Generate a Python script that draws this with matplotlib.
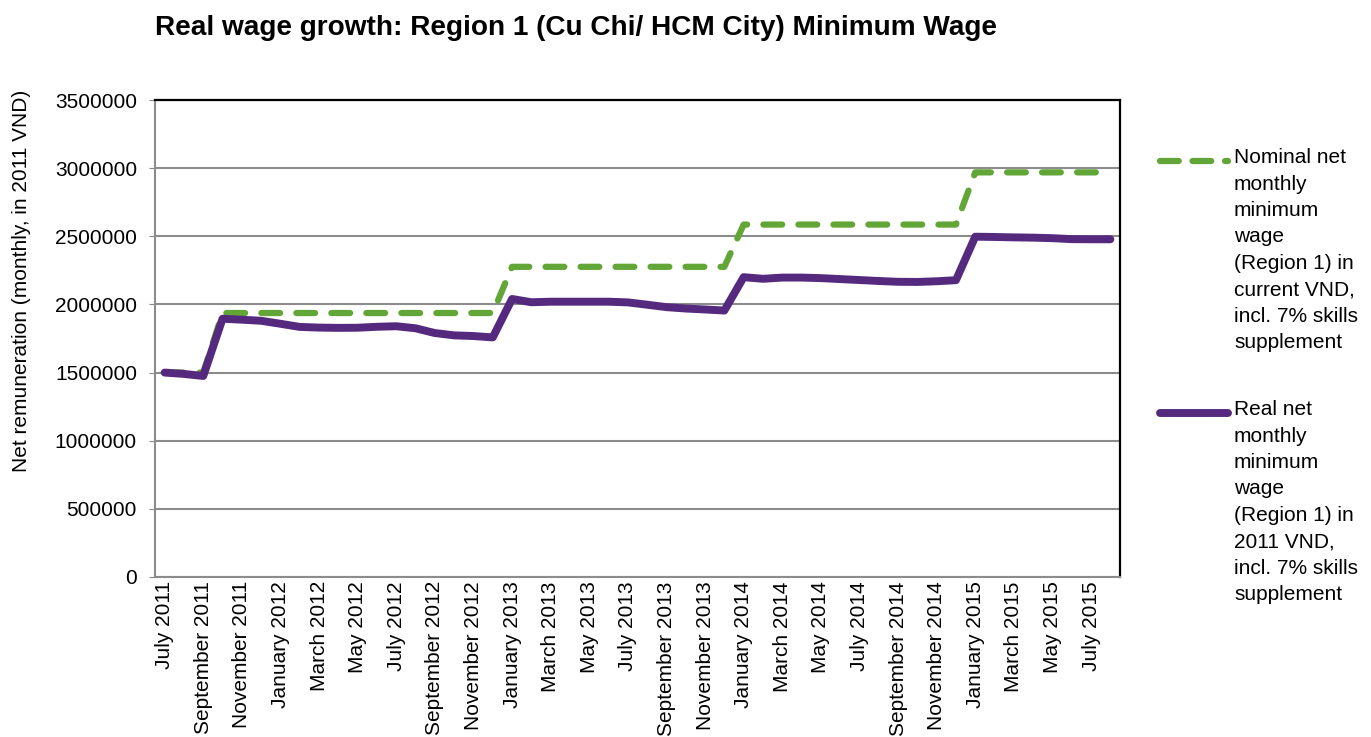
import matplotlib
matplotlib.use("Agg")
import matplotlib.pyplot as plt
from matplotlib.lines import Line2D

plt.rcParams['font.family'] = ['Liberation Sans', 'DejaVu Sans']

month_names = ["January", "February", "March", "April", "May", "June", "July",
               "August", "September", "October", "November", "December"]
# 50 monthly categories, July 2011 .. August 2015
categories = [f"{month_names[(6 + i) % 12]} {2011 + (6 + i) // 12}" for i in range(50)]

nominal = ([1500000] * 3 + [1937000] * 15 + [2276000] * 12 +
           [2586000] * 12 + [2969000] * 8)

real = [1500000, 1490000, 1475000, 1895000, 1888000, 1880000,
        1858000, 1835000, 1830000, 1828000, 1829000, 1836000,
        1840000, 1825000, 1790000, 1773000, 1768000, 1758000,
        2040000, 2016000, 2020000, 2020000, 2020000, 2020000,
        2015000, 1998000, 1980000, 1970000, 1963000, 1955000,
        2200000, 2188000, 2197000, 2197000, 2193000, 2186000,
        2179000, 2172000, 2166000, 2165000, 2170000, 2178000,
        2497000, 2495000, 2492000, 2490000, 2486000, 2479000,
        2478000, 2478000]

nominal_label = ("Nominal net\nmonthly\nminimum\nwage\n(Region 1) in\n"
                 "current VND,\nincl. 7% skills\nsupplement")
real_label = ("Real net\nmonthly\nminimum\nwage\n(Region 1) in\n"
              "2011 VND,\nincl. 7% skills\nsupplement")

green = '#63A638'
purple = '#55297E'
FS = 15

W, H = 1371, 737
fig = plt.figure(figsize=(W / 100, H / 100), dpi=100)
ax = fig.add_axes([155 / W, 1 - 577 / H, (1120 - 155) / W, (577 - 100) / H])

x = list(range(len(categories)))
ax.plot(x, nominal, color=green, lw=4.5, linestyle=(0, (3, 2.6)),
        dash_capstyle='round', solid_capstyle='round', zorder=3)
ax.plot(x, real, color=purple, lw=5.7, solid_capstyle='round',
        solid_joinstyle='round', zorder=4)

ax.set_xlim(-0.5, len(categories) - 0.5)
ax.set_ylim(0, 3500000)
ax.set_yticks(range(0, 3500001, 500000))
ax.set_yticklabels([str(v) for v in range(0, 3500001, 500000)], fontsize=FS)
ax.set_xticks(x[::2])
ax.set_xticklabels(categories[::2], rotation=90, fontsize=FS)
ax.tick_params(axis='x', length=0, pad=3)
ax.tick_params(axis='y', length=4, color='#888888', pad=9)

ax.grid(axis='y', color='#8C8C8C', lw=1.5, zorder=0)
ax.set_axisbelow(True)
for s in ['left', 'bottom']:
    ax.spines[s].set_color('#8C8C8C')
    ax.spines[s].set_linewidth(1.5)
for s in ['top', 'right']:
    ax.spines[s].set_color('black')
    ax.spines[s].set_linewidth(1.6)

ax.set_ylabel("Net remuneration (monthly, in 2011 VND)", fontsize=FS)
ax.yaxis.set_label_coords(-0.128, 0.62)

fig.text(155 / W, 1 - 28 / H, "Real wage growth: Region 1 (Cu Chi/ HCM City) Minimum Wage",
         fontsize=20.2, fontweight='bold', va='center', ha='left')

# legend drawn manually
def legend_entry(ytop, label, **kw):
    yl = 1 - (ytop + 1) / H
    fig.add_artist(Line2D([1160 / W, 1228 / W], [yl, yl], transform=fig.transFigure, **kw))
    fig.text(1234 / W, 1 - (ytop - 12) / H, label, fontsize=FS, va='top', ha='left',
             linespacing=1.5)

legend_entry(160, nominal_label, color=green, lw=4.5, linestyle=(0, (3, 2.2)),
             dash_capstyle='round')
legend_entry(412, real_label, color=purple, lw=5.7, solid_capstyle='round')

fig.savefig("out.png", dpi=100)
